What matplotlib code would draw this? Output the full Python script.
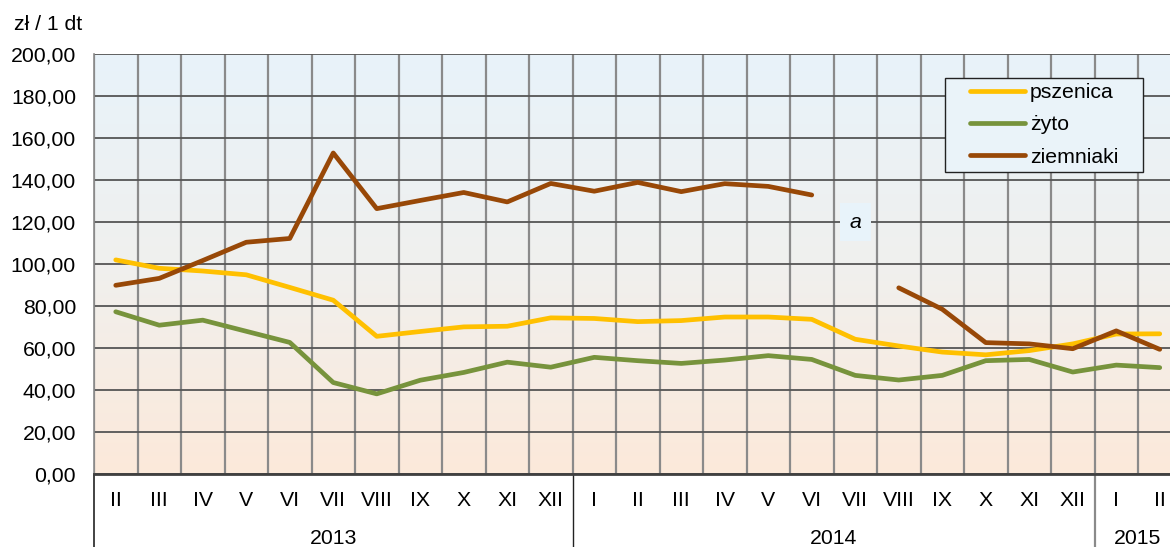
import matplotlib.pyplot as plt
import numpy as np
from matplotlib.colors import LinearSegmentedColormap
from matplotlib.patches import Rectangle

# months Feb 2013 .. Feb 2015
months = ["II", "III", "IV", "V", "VI", "VII", "VIII", "IX", "X", "XI", "XII",
          "I", "II", "III", "IV", "V", "VI", "VII", "VIII", "IX", "X", "XI", "XII",
          "I", "II"]
years = ["2013", "2014", "2015"]
year_spans = [(0, 10), (11, 22), (23, 24)]

pszenica = [102.1, 98.1, 96.8, 95.0, 89.0, 82.9, 65.7, 68.0, 70.2, 70.5, 74.5,
            74.2, 72.7, 73.2, 74.9, 74.9, 73.8, 64.3, 61.1, 58.2, 56.9, 58.9, 62.1,
            66.8, 66.9]
zyto = [77.4, 71.0, 73.4, 68.1, 62.8, 43.7, 38.3, 44.8, 48.5, 53.4, 51.0,
        55.7, 54.1, 52.8, 54.4, 56.5, 54.7, 47.1, 44.9, 47.1, 54.1, 54.7, 48.7,
        52.0, 50.8]
ziemniaki = [90.0, 93.3, 101.8, 110.5, 112.3, 153.0, 126.5, 130.4, 134.2, 129.7, 138.5,
             134.8, 139.0, 134.6, 138.4, 137.1, 133.0, np.nan, 88.8, 78.6, 62.7, 62.1, 59.8,
             68.3, 59.5]

plt.rcParams["font.family"] = ["Liberation Sans", "DejaVu Sans"]
fs = 15.3

fig = plt.figure(figsize=(11.7, 5.47), dpi=100)
# axes run past the right edge of the picture, as in the reference
ax = fig.add_axes([94 / 1170, (547 - 474.3) / 547, 1087.5 / 1170, 420 / 547])

x = np.arange(len(months))

# background gradient (light blue at top -> light peach at bottom)
cmap = LinearSegmentedColormap.from_list("bg", ["#FCE9DA", "#F0F0EE", "#E8F3FA"])
grad = np.linspace(0, 1, 256).reshape(-1, 1)
ax.imshow(grad, extent=[-0.5, len(months) - 0.5, 0, 200], origin="lower",
          aspect="auto", cmap=cmap, zorder=-2)

line_kw = dict(lw=3.4, zorder=3, solid_capstyle="round", solid_joinstyle="round")
ax.plot(x, pszenica, color="#FFC000", label="pszenica", **line_kw)
ax.plot(x, zyto, color="#77933C", label="żyto", **line_kw)
ax.plot(x, ziemniaki, color="#984807", label="ziemniaki", **line_kw)

ax.set_xlim(-0.5, len(months) - 0.5)
ax.set_ylim(0, 200)

# grid
ax.set_yticks(np.arange(0, 201, 20))
ax.set_yticklabels([f"{v:.2f}".replace(".", ",") for v in range(0, 201, 20)])
ax.set_xticks(x)
ax.set_xticklabels(months)
ax.set_xticks(np.arange(-0.5, len(months), 1), minor=True)
ax.grid(axis="y", which="major", color="#555555", lw=1.3, zorder=1)
ax.grid(axis="x", which="minor", color="#8a8a8a", lw=1.6, zorder=1)
ax.set_axisbelow(True)

ax.tick_params(axis="both", which="both", length=0, labelsize=fs)
ax.tick_params(axis="y", pad=13)
ax.tick_params(axis="x", pad=12)

for s in ["top", "right"]:
    ax.spines[s].set_visible(False)
ax.spines["left"].set_color("#8a8a8a")
ax.spines["left"].set_linewidth(1.2)
ax.spines["bottom"].set_color("#404040")
ax.spines["bottom"].set_linewidth(2)

# year labels and separators under the axis
xt = ax.get_xaxis_transform()
for yr, (a, b) in zip(years, year_spans):
    ax.text((a + b) / 2, -0.153, yr, transform=xt, ha="center", va="center",
            fontsize=fs, clip_on=False)
ax.plot([-0.5, -0.5], [0, -0.2], transform=xt, color="#222222", lw=1.2, clip_on=False)
ax.plot([10.5, 10.5], [0, -0.2], transform=xt, color="#222222", lw=1.0, clip_on=False)
ax.plot([22.5, 22.5], [0, -0.2], transform=xt, color="#8a8a8a", lw=1.6, clip_on=False)

# note where the potato series is missing
ax.text(17, 120, "a", ha="center", va="center", fontsize=fs, style="italic",
        bbox=dict(boxstyle="square,pad=0.45", fc="#E8F3FA", ec="none"), zorder=4)

# legend box drawn separately so the padding matches
box_x0, box_y0, box_x1, box_y1 = 0.7825, 0.72, 0.9646, 0.9436
ax.add_patch(Rectangle((box_x0, box_y0), box_x1 - box_x0, box_y1 - box_y0,
                       transform=ax.transAxes, fc="#EAF3F9", ec="#222222",
                       lw=1.0, zorder=5))
leg = ax.legend(loc="center", bbox_to_anchor=((box_x0 + box_x1) / 2, (box_y0 + box_y1) / 2),
                borderaxespad=0, fontsize=fs, frameon=False, handlelength=2.6,
                handletextpad=0.25, labelspacing=0.62, borderpad=0)
leg.set_zorder(6)

fig.text(14 / 1170, 1 - 24 / 547, "zł / 1 dt", fontsize=fs, ha="left", va="center")

plt.savefig("out.png", dpi=100)
